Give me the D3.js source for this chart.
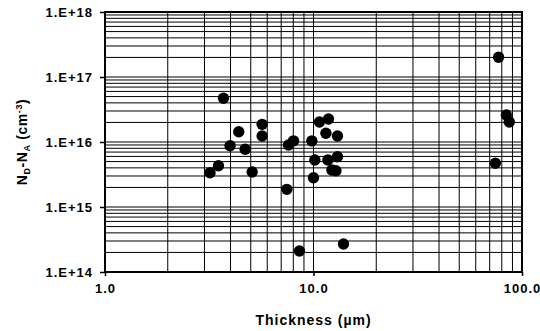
<!DOCTYPE html>
<html>
<head>
<meta charset="utf-8">
<script src="https://cdn.jsdelivr.net/npm/d3@7"></script>
<style>
  body { margin: 0; background: #fff; }
  text { font-family: "Liberation Sans", Arial, sans-serif; font-weight: bold; fill: #000; }
</style>
</head>
<body>
<svg width="540" height="331"></svg>
<script>
// thickness (um) and N_D - N_A (cm^-3)
const thickness = [3.19, 3.50, 3.70, 3.98, 4.38, 4.70, 5.08, 5.67, 5.67, 7.45, 7.59, 8.02, 8.56, 9.82, 10.0,
  10.15, 10.68, 11.8, 11.47, 13.03, 11.72, 13.03, 12.25, 12.81, 13.93, 77.2, 84.1, 86.9, 74.5];
const conc = [3.37e15, 4.32e15, 4.70e16, 8.77e15, 1.44e16, 7.72e15, 3.45e15, 1.87e16, 1.24e16, 1.87e15, 8.99e15,
  1.04e16, 2.10e14, 1.04e16, 2.82e15, 5.29e15, 2.03e16, 2.26e16, 1.36e16, 1.24e16, 5.29e15, 5.94e15, 3.71e15,
  3.62e15, 2.70e14, 2.01e17, 2.60e16, 2.03e16, 4.70e15];

const xTicks = [1, 10, 100];
const xTickLabels = ['1.0', '10.0', '100.0'];
const yTicks = [1e14, 1e15, 1e16, 1e17, 1e18];
const yTickLabels = ['1.E+14', '1.E+15', '1.E+16', '1.E+17', '1.E+18'];

const MARGIN = { top: 12, right: 18, bottom: 59, left: 105 };
const W = 540 - MARGIN.left - MARGIN.right;
const H = 331 - MARGIN.top - MARGIN.bottom;

const x = d3.scaleLog().domain([1, 100]).range([0, W]);
const y = d3.scaleLog().domain([1e14, 1e18]).range([H, 0]);

const svg = d3.select('svg');
const g = svg.append('g').attr('transform', `translate(${MARGIN.left},${MARGIN.top})`);

// grid lines: 1..9 in each decade
const xGrid = [];
for (let d = 1; d < 100; d *= 10) for (let k = 1; k < 10; k++) xGrid.push(d * k);
const yGrid = [];
for (let d = 1e14; d < 1e18; d *= 10) for (let k = 1; k < 10; k++) yGrid.push(d * k);

g.selectAll('.vgrid').data(xGrid).enter().append('line')
  .attr('x1', d => x(d)).attr('x2', d => x(d))
  .attr('y1', 0).attr('y2', H)
  .attr('stroke', '#000').attr('stroke-width', 1);

g.selectAll('.hgrid').data(yGrid).enter().append('line')
  .attr('y1', d => y(d)).attr('y2', d => y(d))
  .attr('x1', 0).attr('x2', W)
  .attr('stroke', '#000').attr('stroke-width', 1);

// frame
g.append('rect').attr('width', W).attr('height', H)
  .attr('fill', 'none').attr('stroke', '#000').attr('stroke-width', 2);

const tickFont = a => a.selectAll('text')
  .style('font-size', '13px').style('letter-spacing', '1px')
  .style('font-family', '"Liberation Sans", Arial, sans-serif').style('font-weight', 'bold');

// axes
g.append('g')
  .call(d3.axisLeft(y).tickValues(yTicks).tickSize(5).tickFormat((d, i) => yTickLabels[i]))
  .call(a => a.select('.domain').remove())
  .call(a => a.selectAll('line').attr('stroke', '#000').attr('stroke-width', 1.5))
  .call(tickFont)
  .call(a => a.selectAll('text').attr('x', -12));

g.append('g')
  .attr('transform', `translate(0,${H})`)
  .call(d3.axisBottom(x).tickValues(xTicks).tickSize(4).tickFormat((d, i) => xTickLabels[i]))
  .call(a => a.select('.domain').remove())
  .call(a => a.selectAll('line').attr('stroke', '#000').attr('stroke-width', 1.5))
  .call(tickFont)
  .call(a => a.selectAll('text').attr('y', 12));

// points
g.selectAll('.pt').data(thickness).enter().append('circle')
  .attr('cx', d => x(d))
  .attr('cy', (d, i) => y(conc[i]))
  .attr('r', 5.7)
  .attr('fill', '#000');

// axis titles
svg.append('text')
  .attr('x', MARGIN.left + W / 2).attr('y', 325)
  .attr('text-anchor', 'middle')
  .style('font-size', '14px').style('letter-spacing', '1px')
  .text('Thickness (µm)');

const yt = svg.append('text')
  .attr('transform', `translate(27,${MARGIN.top + H / 2}) rotate(-90)`)
  .attr('text-anchor', 'middle')
  .style('font-size', '14px').style('letter-spacing', '0.6px');
yt.append('tspan').text('N');
yt.append('tspan').attr('dy', 3).style('font-size', '9px').text('D');
yt.append('tspan').attr('dy', -3).text('-N');
yt.append('tspan').attr('dy', 3).style('font-size', '9px').text('A');
yt.append('tspan').attr('dy', -3).text(' (cm');
yt.append('tspan').attr('dy', -5).style('font-size', '9px').text('-3');
yt.append('tspan').attr('dy', 5).text(')');
</script>
</body>
</html>
